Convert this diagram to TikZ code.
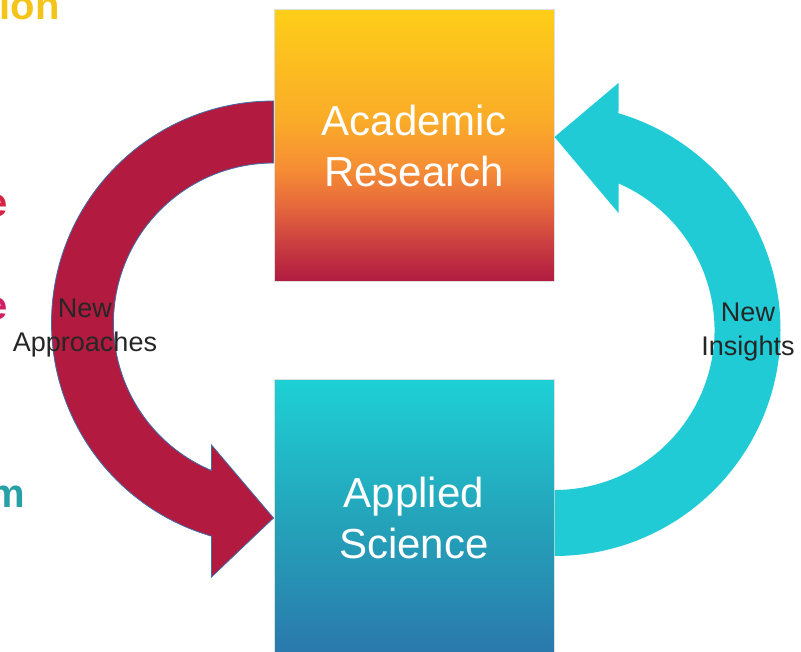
\documentclass[tikz,border=0pt]{standalone}
\usepackage{fontspec}
\setmainfont{Liberation Sans}
\usetikzlibrary{calc}
\usetikzlibrary{positioning}

\definecolor{crimson}{RGB}{178,27,63}
\definecolor{arrowline}{RGB}{60,110,170}
\definecolor{aqua}{RGB}{32,203,214}
\definecolor{acadA}{RGB}{176,26,64}
\definecolor{acadB}{RGB}{202,62,64}
\definecolor{acadC}{RGB}{230,104,60}
\definecolor{acadD}{RGB}{246,142,52}
\definecolor{acadE}{RGB}{250,172,40}
\definecolor{acadF}{RGB}{254,206,24}
\definecolor{applTop}{RGB}{30,208,214}
\definecolor{applMid}{RGB}{36,164,186}
\definecolor{applBot}{RGB}{42,120,172}
\definecolor{fragY}{RGB}{245,196,24}
\definecolor{fragR}{RGB}{215,35,70}
\definecolor{fragP}{RGB}{210,30,100}
\definecolor{fragT}{RGB}{40,160,165}

\pgfdeclareverticalshading{acadfade}{100bp}{color(0bp)=(acadA); color(25bp)=(acadA);
  color(32bp)=(acadB); color(39bp)=(acadC); color(46bp)=(acadD); color(55bp)=(acadE);
  color(75bp)=(acadF); color(100bp)=(acadF)}

\begin{document}
\begin{tikzpicture}
	[x=1pt,y=1pt,
	box/.style={rectangle,minimum width=280pt,inner sep=0pt,align=center,draw=gray!25,line width=1pt,
		text=white,font=\fontsize{42}{51}\selectfont},
	lbl/.style={align=center,inner sep=0pt,text=black!85,font=\fontsize{27}{34}\selectfont},
	frag/.style={anchor=base east,inner sep=0pt,font=\fontsize{40}{48}\selectfont\bfseries}]
	\useasboundingbox (0,0) rectangle (801,651);
	\clip (0,0) rectangle (801,651);
	
	% the two boxes
	\node[box,minimum height=272pt,shade,shading=acadfade] (acad) at (414,505) {Academic\\Research};
	\node[box,minimum height=276pt,top color=applTop,bottom color=applBot,middle color=applMid] (appl) at (414,133) {Applied\\Science};
	
	% cut off words at the left edge
	\foreach \w/\px/\py/\c [count=\i] in 
	{ion/60/631/fragY, e/8/434/fragR, e/8/331/fragP, m/25/143/fragT}
	\node[frag,text=\c] (frag\i) at (\px,\py) {\w};
	
	% curved arrows
	\filldraw[fill=crimson,draw=arrowline,line width=0.8pt]
	($(acad.west)+(0,45)$) arc[start angle=90,end angle=253.8,radius=222pt]
	-- ($(appl.west)+(-62,-59)$) -- (appl.west) -- ($(appl.west)+(-62,73)$)
	-- ($(appl.west)+(-62,47.5)$) arc[start angle=247.2,end angle=90,radius=160pt] -- cycle;
	\fill[aqua]
	($(appl.east)+(0,-38)$) arc[start angle=-90,end angle=73.55,radius=226pt]
	-- ($(acad.east)+(64,63)$) -- ($(acad.east)+(0,9)$) -- ($(acad.east)+(64,-67)$)
	-- ($(acad.east)+(64,-37.4)$) arc[start angle=66.42,end angle=-90,radius=160pt] -- cycle;
	
	\node[lbl] (appr) at (85,323) {New\\Approaches};
	\node[lbl] (insi) at (748,319) {New\\Insights};
\end{tikzpicture}
\end{document}
